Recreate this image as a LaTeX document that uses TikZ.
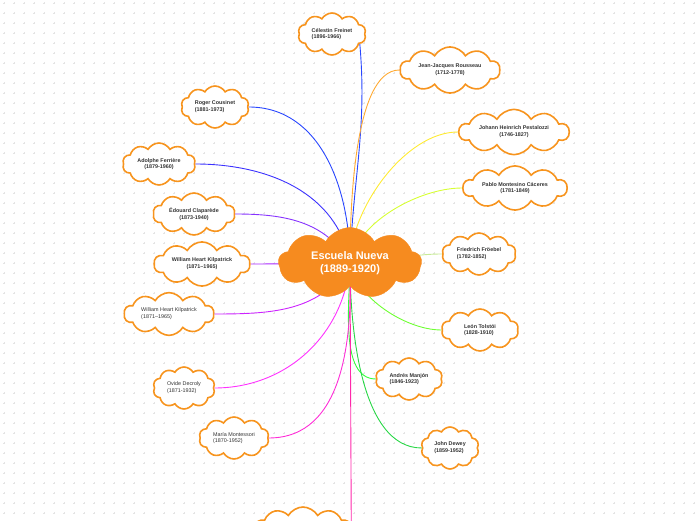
\documentclass[tikz,border=0pt]{standalone}
\usepackage{fontspec}
\setmainfont{Liberation Sans}
\usepackage{xcolor}
\usepackage{tikz}
\usetikzlibrary{shapes.symbols,backgrounds}
\definecolor{cloudorange}{RGB}{247,148,30}
\definecolor{hubfill}    {RGB}{246,139,31}
\definecolor{gridgray}   {RGB}{228,228,228}
\definecolor{inkgray}    {RGB}{51,51,51}
\definecolor{brblue}     {RGB}{40,70,255}
\definecolor{brindigo}   {RGB}{60,50,255}
\definecolor{brorange}   {RGB}{255,170,50}
\definecolor{bryellow}   {RGB}{255,235,50}
\definecolor{brlime}     {RGB}{215,255,50}
\definecolor{brpale}     {RGB}{200,235,150}
\definecolor{brviolet}   {RGB}{135,50,255}
\definecolor{brpurple}   {RGB}{170,40,255}
\definecolor{brmagenta}  {RGB}{205,35,255}
\definecolor{brgreen}    {RGB}{110,255,50}
\definecolor{brgreenb}   {RGB}{50,255,60}
\definecolor{brgreenc}   {RGB}{40,215,70}
\definecolor{brpink}     {RGB}{255,50,255}
\definecolor{brrose}     {RGB}{255,45,215}
\definecolor{brcerise}   {RGB}{255,40,170}
\tikzset{
  idea/.style={cloud, cloud puffs=10, cloud puff arc=120, aspect=2,
               draw=cloudorange, line width=1.6pt, fill=white,
               inner sep=0pt, minimum width=#1, minimum height=42pt,
               align=center, text=inkgray,
               font=\fontsize{5.4}{6.8}\selectfont\bfseries},
  idea/.default=70pt,
  leftidea/.style={idea=#1, align=left},
  leftidea/.default=70pt,
  plainidea/.style={idea=#1, align=left,
                    font=\fontsize{5.4}{6.8}\selectfont},
  plainidea/.default=70pt,
  hub/.style={cloud, cloud puffs=9, cloud puff arc=120, aspect=2.1,
              fill=hubfill, draw=hubfill, inner sep=0pt,
              minimum width=143pt, minimum height=66pt,
              align=center, text=white,
              font=\fontsize{11}{13}\selectfont\bfseries},
  branch/.style={line width=0.9pt, draw=#1},
  gridmark/.style={draw=gridgray, line width=0.4pt},
}

\begin{document}
\begin{tikzpicture}[x=1pt, y=1pt]
  \useasboundingbox (0,0) rectangle (696,520);
  \begin{scope}[on background layer]
    \draw[gridmark] \foreach \gx in {4,14,...,694} {
      \foreach \gy in {7,17,...,517} {
        (\gx-1.2,\gy)--(\gx+1.2,\gy) (\gx,\gy-1.2)--(\gx,\gy+1.2)}};
  \end{scope}

  \node[hub] (hub) at (350,257) {Escuela Nueva\\(1889-1920)};

  \node[leftidea=68pt, aspect=1.9]   (freinet)    at (332,486) {Célestin Freinet\\(1896-1966)};
  \node[idea=100pt, aspect=2.8]      (rousseau)   at (450,450) {Jean-Jacques Rousseau\\(1712-1778)};
  \node[leftidea=68pt, aspect=1.9]   (cousinet)   at (215,413) {Roger Cousinet\\(1881-1973)};
  \node[idea=110pt, aspect=3.4]      (pestalozzi) at (514,388) {Johann Heinrich Pestalozzi\\(1746-1827)};
  \node[idea=73pt, aspect=2.0]       (ferriere)   at (159,356) {Adolphe Ferrière\\(1879-1960)};
  \node[idea=104pt, aspect=3.2]      (montesino)  at (515,332) {Pablo Montesino Cáceres\\(1781-1849)};
  \node[leftidea=74pt, aspect=2.1]   (froebel)    at (479,266) {Friedrich Fröebel\\(1782-1852)};
  \node[idea=82pt, aspect=2.3]       (claparede)  at (194,306) {Édouard Claparède\\(1873-1940)};
  \node[idea=96pt, aspect=2.8]       (kilpatrick) at (202,256) {William Heart Kilpatrick\\(1871--1965)};
  \node[plainidea=90pt, aspect=2.6]  (kilpatrickb) at (169,206) {William Heart Kilpatrick\\(1871--1965)};
  \node[leftidea=77pt, aspect=2.2]   (tolstoi)    at (480,190) {León Tolstói\\(1828-1910)};
  \node[leftidea=67pt, aspect=1.8]   (manjon)     at (409,141) {Andrés Manjón\\(1846-1923)};
  \node[plainidea=62pt, aspect=1.7]  (decroly)    at (184,132) {Ovide Decroly\\(1871-1932)};
  \node[plainidea=70pt, aspect=1.9]  (montessori) at (234,82)  {María Montessori\\(1870-1952)};
  \node[leftidea=58pt, aspect=1.5]   (dewey)      at (450,72)  {John Dewey\\(1859-1952)};
  \node[idea=95pt, aspect=2.5]       (lastidea)   at (303,-8)  {};

  \begin{scope}[on background layer]
    \draw[branch=brblue]   (hub.center) to[out=88,in=-85] (freinet.-20);
    \draw[branch=brorange] (hub.center) to[out=90,in=180,looseness=0.6] (rousseau.west);
    \draw[branch=brblue]   (hub.center) to[out=90,in=0] (cousinet.east);
    \draw[branch=bryellow] (hub.center) to[out=90,in=180,looseness=0.8] (pestalozzi.west);
    \draw[branch=brindigo] (hub.center) to[out=100,in=0] (ferriere.east);
    \draw[branch=brlime]   (hub.center) to[out=80,in=180,looseness=0.8] (montesino.west);
    \draw[branch=brpale]   (hub.center) to[out=0,in=180] (froebel.west);
    \draw[branch=brviolet] (hub.center) to[out=120,in=0] (claparede.east);
    \draw[branch=brpurple] (hub.center) to[out=180,in=0] (kilpatrick.east);
    \draw[branch=brmagenta](hub.center) to[out=-120,in=0] (kilpatrickb.east);
    \draw[branch=brgreen]  (hub.center) to[out=-80,in=180,looseness=0.8] (tolstoi.west);
    \draw[branch=brgreenb] (hub.center) to[out=-90,in=180,looseness=0.8] (manjon.west);
    \draw[branch=brpink]   (hub.center) to[out=-95,in=0] (decroly.east);
    \draw[branch=brgreenc] (hub.center) to[out=-90,in=180,looseness=0.8] (dewey.west);
    \draw[branch=brrose]   (hub.center) to[out=-88,in=0] (montessori.east);
    \draw[branch=brcerise] (hub.center) -- (lastidea.east);
  \end{scope}
\end{tikzpicture}
\end{document}
